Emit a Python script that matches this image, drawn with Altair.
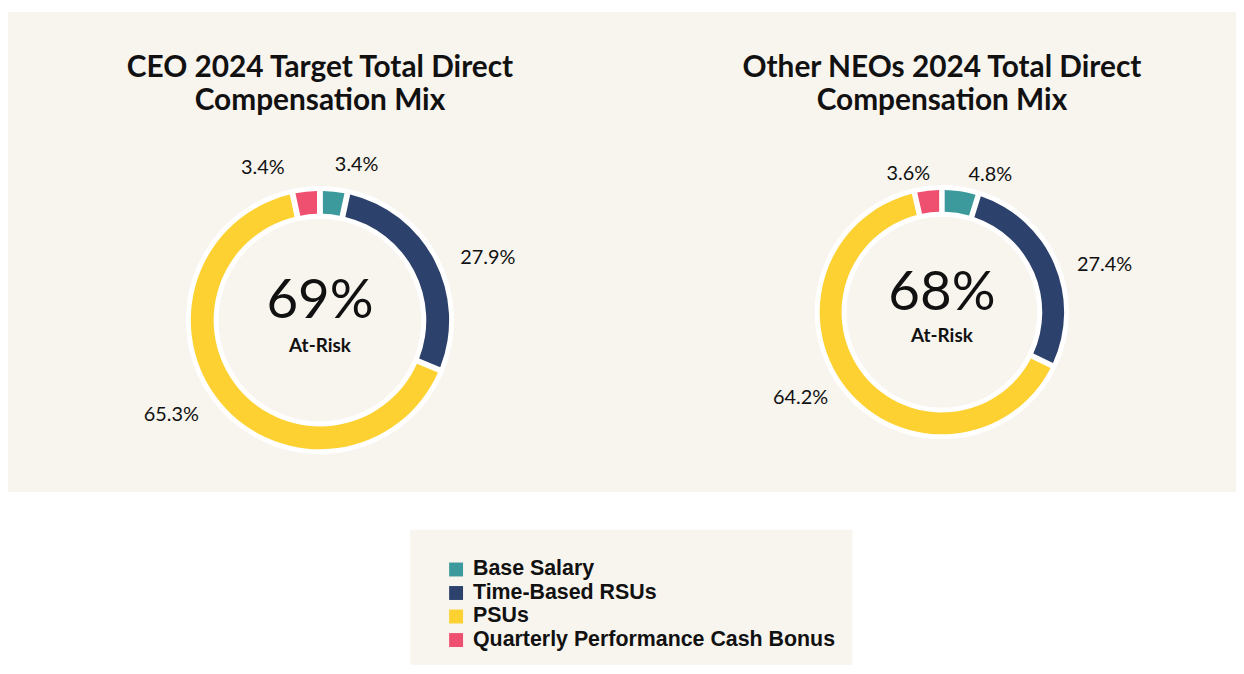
import altair as alt
import pandas as pd

# ---- data ----
categories = ["Base Salary", "Time-Based RSUs", "PSUs", "Quarterly Performance Cash Bonus"]
ceo_values = [3.4, 27.9, 65.3, 3.4]
neo_values = [4.8, 27.4, 64.2, 3.6]
colors = ["#3d9a9c", "#2c426c", "#fdd131", "#f0506f"]
titles = ["CEO 2024 Target Total Direct\nCompensation Mix",
          "Other NEOs 2024 Total Direct\nCompensation Mix"]
at_risk = ["69%", "68%"]
at_risk_label = "At-Risk"

BEIGE = "#f8f4ee"
PANEL_H = 483

color_scale = alt.Scale(domain=categories, range=colors)
theta_scale = alt.Scale(domain=[0, 100])


def donut(values, title, risk, cx, cy, r_out, r_in, gap, k, first_shift, last_shift, width,
          title_y, big_y, small_y):
    df = pd.DataFrame({
        "category": categories,
        "value": values,
        "order": list(range(1, len(categories) + 1)),
        "label": [f"{v:.1f}%" for v in values],
    })
    base = alt.Chart(df).encode(x=alt.value(cx), y=alt.value(cy))
    theta = alt.Theta("value:Q", stack=True, scale=theta_scale)

    ring = base.mark_arc(radius=r_out + 5, innerRadius=r_in - 5, color="white").encode(
        theta=theta, order=alt.Order("order:Q"))
    arcs = base.mark_arc(radius=r_out, innerRadius=r_in, padAngle=0.035).encode(
        theta=theta,
        order=alt.Order("order:Q"),
        color=alt.Color("category:N", scale=color_scale, legend=None),
    )
    labels = base.transform_window(
        cum="sum(value)", sort=[alt.SortField("order")]
    ).transform_calculate(
        mid=(f"datum.cum - datum.value / 2 + (datum.cum > 99 ? {last_shift} : "
             f"(datum.order == 1 ? {first_shift} : 2))")
    ).transform_calculate(
        rlab=f"{r_out + gap} + {k} * abs(sin(datum.mid * 2 * PI / 100))"
    ).mark_text(font="Lato", fontSize=20, color="#111111",
                align="center", baseline="middle").encode(
        theta=alt.Theta("mid:Q", stack=None, scale=theta_scale),
        radius=alt.Radius("rlab:Q", scale=None),
        text="label:N",
    )

    tdf = pd.DataFrame({"t": [title], "big": [risk], "small": [at_risk_label]})
    tbase = alt.Chart(tdf)
    title_txt = tbase.mark_text(font="Lato", fontSize=30, fontWeight="bold", color="#111111",
                                lineBreak="\n", lineHeight=34, align="center",
                                baseline="alphabetic").encode(
        text="t:N", x=alt.value(cx), y=alt.value(title_y))
    big_txt = tbase.mark_text(font="Lato", fontSize=55, color="#111111", align="center",
                              baseline="alphabetic").encode(
        text="big:N", x=alt.value(cx), y=alt.value(big_y))
    small_txt = tbase.mark_text(font="Lato", fontSize=19, fontWeight="bold", color="#111111",
                                align="center", baseline="alphabetic").encode(
        text="small:N", x=alt.value(cx), y=alt.value(small_y))

    return alt.layer(ring, arcs, labels, title_txt, big_txt, small_txt).properties(
        width=width, height=PANEL_H)


left = donut(ceo_values, titles[0], at_risk[0], cx=314, cy=310, r_out=130, r_in=107,
             gap=24, k=28, first_shift=2, last_shift=-4, width=620,
             title_y=65, big_y=308, small_y=342)
right = donut(neo_values, titles[1], at_risk[1], cx=320, cy=302, r_out=123, r_in=101,
              gap=11, k=38, first_shift=3, last_shift=-2, width=616,
              title_y=65, big_y=300, small_y=332)

top = alt.hconcat(left, right, spacing=0)

leg_df = pd.DataFrame({"category": categories})
leg_y = alt.Y("category:N", sort=categories, axis=None,
              scale=alt.Scale(type="point", range=[40, 111], padding=0))
leg_sq = alt.Chart(leg_df).mark_square(size=196, opacity=1, filled=True).encode(
    x=alt.value(46), y=leg_y,
    color=alt.Color("category:N", scale=color_scale, legend=None))
leg_txt = alt.Chart(leg_df).mark_text(font="Liberation Sans", fontSize=21.5, fontWeight="bold",
                                      color="#111111", align="left", baseline="middle").encode(
    x=alt.value(63), y=leg_y, text="category:N")
legend = alt.layer(leg_sq, leg_txt).properties(width=445, height=136)

spacer = alt.Chart(pd.DataFrame({"a": [0]})).mark_point(opacity=0).encode(
    x=alt.value(20), y=alt.value(20)
).properties(width=405, height=136, view=alt.ViewBackground(fill="white", stroke=None))

bottom = alt.hconcat(spacer, legend, spacing=0)

chart = alt.vconcat(top, bottom, spacing=38).properties(
    padding={"left": 0, "right": 0, "top": 2, "bottom": 0},
    background="white",
).configure_view(fill=BEIGE, stroke=None)

chart.save("out.html", embed_options={"renderer": "svg", "actions": False})
